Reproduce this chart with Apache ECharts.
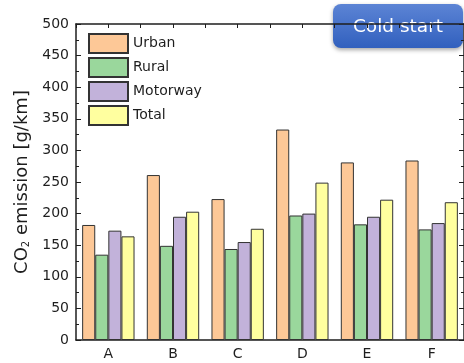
<!DOCTYPE html>
<html>
<head>
<meta charset="utf-8">
<script src="https://cdn.jsdelivr.net/npm/echarts@6/dist/echarts.min.js"></script>
<style>
  html, body { margin: 0; padding: 0; background: #fff; }
  #chart { width: 464px; height: 363px; }
</style>
</head>
<body>
<div id="chart"></div>
<script>
// CO2 emission per vehicle and driving phase (cold start)
const categories = ['A', 'B', 'C', 'D', 'E', 'F'];
const urban    = [182, 261, 223, 333, 281, 284];
const rural    = [135, 149, 144, 197, 183, 175];
const motorway = [173, 195, 155, 200, 195, 185];
const total    = [164, 203, 176, 249, 222, 218];
const yTicks = { min: 0, max: 500, interval: 50 };

const FONT = 'DejaVu Sans';
const INK = '#1e1e1e';

const chart = echarts.init(document.getElementById('chart'), null, { renderer: 'canvas' });

function barSeries(name, data, color) {
  return {
    name, type: 'bar', data,
    xAxisIndex: 0, yAxisIndex: 0,
    // bars of one group sit side by side with no gap
    barGap: '0%', barCategoryGap: '19%',
    itemStyle: { color, borderColor: '#333333', borderWidth: 1 },
    emphasis: { disabled: true }
  };
}

chart.setOption({
  animation: false,
  textStyle: { fontFamily: FONT, color: INK },
  grid: { left: 76, top: 24, width: 392, bottom: 23, containLabel: false },
  legend: {
    orient: 'vertical', left: 88, top: 33, padding: 0,
    itemWidth: 39, itemHeight: 19, itemGap: 3,
    icon: 'rect',
    textStyle: { fontFamily: FONT, fontSize: 14, color: INK },
    data: ['Urban', 'Rural', 'Motorway', 'Total']
  },
  xAxis: [
    {
      type: 'category', data: categories, position: 'bottom',
      boundaryGap: true,
      axisLine: { lineStyle: { color: INK, width: 1.5 } },
      axisTick: { inside: true, length: 4, lineStyle: { color: INK } },
      axisLabel: { fontFamily: FONT, fontSize: 14, color: INK, margin: 7 }
    },
    {
      type: 'value', position: 'top', min: 0, max: 6, interval: 0.5,
      axisLine: { show: true, onZero: false, lineStyle: { color: INK, width: 1.5 } },
      axisTick: { show: true, inside: true, length: 4, lineStyle: { color: INK } },
      axisLabel: { show: false }, splitLine: { show: false }
    }
  ],
  yAxis: [
    {
      type: 'value', position: 'left', ...yTicks,
      axisLine: { show: true, lineStyle: { color: INK, width: 1.5 } },
      axisTick: { show: true, inside: true, length: 5, lineStyle: { color: INK } },
      minorTick: { show: true, splitNumber: 2, length: 3, lineStyle: { color: INK } },
      axisLabel: { fontFamily: FONT, fontSize: 14, color: INK, margin: 7 },
      splitLine: { show: false },
      name: '{t|CO}{s|2}{t| emission [g/km]}',
      nameLocation: 'middle', nameRotate: 90, nameGap: 44,
      nameTextStyle: {
        rich: {
          t: { fontFamily: FONT, fontSize: 18, color: INK },
          s: { fontFamily: FONT, fontSize: 10, color: INK, verticalAlign: 'bottom', padding: [7, 0, 0, 0] }
        }
      }
    },
    {
      type: 'value', position: 'right', ...yTicks,
      axisLine: { show: true, lineStyle: { color: INK, width: 1.5 } },
      axisTick: { show: true, inside: true, length: 5, lineStyle: { color: INK } },
      minorTick: { show: true, splitNumber: 2, length: 3, lineStyle: { color: INK } },
      axisLabel: { show: false }, splitLine: { show: false }
    }
  ],
  series: [
    barSeries('Urban', urban, '#fdc897'),
    barSeries('Rural', rural, '#9ad79c'),
    barSeries('Motorway', motorway, '#c2b2da'),
    barSeries('Total', total, '#ffff9f')
  ],
  graphic: [
    {
      type: 'group', left: 333, top: 4,
      children: [
        {
          type: 'rect',
          shape: { x: 0, y: 0, width: 130, height: 44, r: 8 },
          style: {
            fill: new echarts.graphic.LinearGradient(0, 0, 0, 1, [
              { offset: 0, color: '#5c84d5' },
              { offset: 1, color: '#3160be' }
            ]),
            shadowBlur: 4, shadowColor: 'rgba(0,0,0,0.35)', shadowOffsetY: 2
          }
        },
        {
          type: 'text', x: 65, y: 23,
          style: {
            text: 'Cold start', fill: '#ffffff',
            font: '18.5px "DejaVu Sans"', align: 'center', verticalAlign: 'middle'
          }
        }
      ]
    }
  ]
});
</script>
</body>
</html>
